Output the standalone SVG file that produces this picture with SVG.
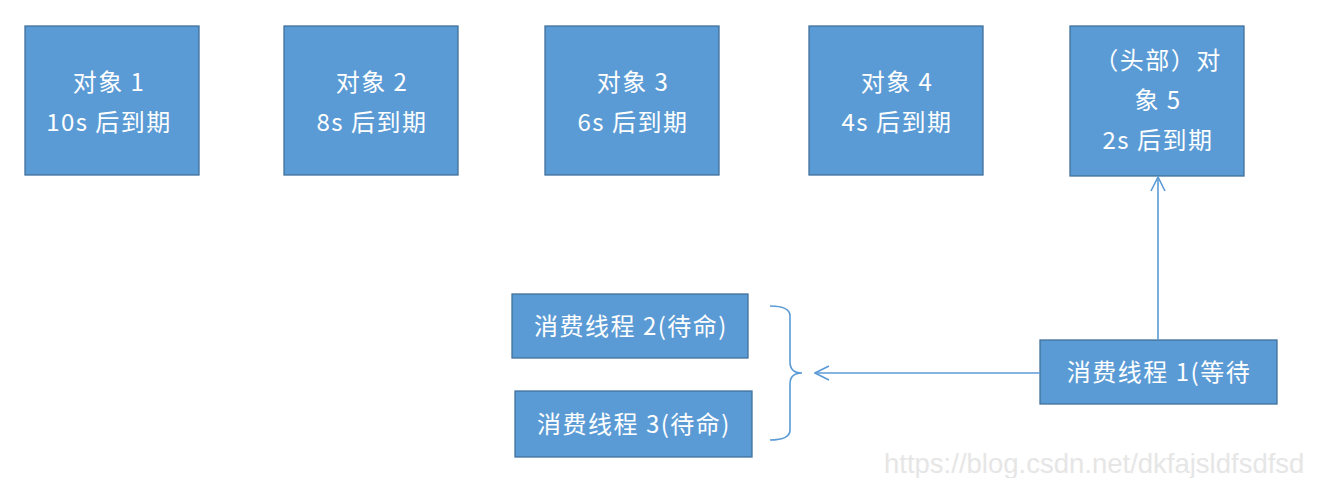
<svg xmlns="http://www.w3.org/2000/svg" width="1336" height="478" viewBox="0 0 1336 478">
<style>
.box{fill:#5B9BD5;stroke:#41719C;stroke-width:1.3}
.t{font-family:"Noto Sans CJK SC","Liberation Sans",sans-serif;font-size:24px;letter-spacing:1.5px;fill:#ffffff;text-anchor:middle}
.ln{fill:none;stroke:#5B9BD5;stroke-width:1.6}
.wm{font-family:"Liberation Sans",Arial,sans-serif;font-size:27.5px;fill:#e6e6e6}
</style>
<defs>
<marker id="ah" viewBox="0 0 16 16" refX="15" refY="8" markerWidth="16" markerHeight="16" markerUnits="userSpaceOnUse" orient="auto">
<path d="M1,1 L15,8 L1,15" fill="none" stroke="#5B9BD5" stroke-width="1.6"/>
</marker>
</defs>
<rect width="1336" height="478" fill="#ffffff"/>
<g id="obj1"><rect class="box" x="25" y="26" width="174" height="149"/><text class="t" x="109" y="91">对象 1</text><text class="t" x="109" y="131">10s 后到期</text></g>
<g id="obj2"><rect class="box" x="284" y="26" width="174" height="149"/><text class="t" x="372" y="91">对象 2</text><text class="t" x="372" y="131">8s 后到期</text></g>
<g id="obj3"><rect class="box" x="545" y="26" width="174" height="149"/><text class="t" x="633" y="91">对象 3</text><text class="t" x="633" y="131">6s 后到期</text></g>
<g id="obj4"><rect class="box" x="809" y="26" width="174" height="149"/><text class="t" x="897" y="91">对象 4</text><text class="t" x="897" y="131">4s 后到期</text></g>
<g id="obj5"><rect class="box" x="1070" y="26" width="174" height="150"/><text class="t" x="1158" y="69">（头部）对</text><text class="t" x="1158" y="109">象 5</text><text class="t" x="1158" y="149">2s 后到期</text></g>
<g id="c2"><rect class="box" x="512" y="294" width="236" height="64"/><text class="t" x="631" y="335">消费线程 2(待命)</text></g>
<g id="c3"><rect class="box" x="515" y="391" width="237" height="66"/><text class="t" x="634" y="433">消费线程 3(待命)</text></g>
<g id="c1"><rect class="box" x="1040" y="340" width="237" height="64"/><text class="t" x="1159" y="381">消费线程 1(等待</text></g>
<g id="connectors">
<path class="ln" d="M770,306 Q790,306 790,316 L790,362 Q790,373 802,373 Q790,373 790,384 L790,430 Q790,440 770,440"/>
<line class="ln" x1="1040" y1="373" x2="815" y2="373" marker-end="url(#ah)"/>
<line class="ln" x1="1158" y1="340" x2="1158" y2="177" marker-end="url(#ah)"/>
</g>
<text class="wm" x="884" y="473">https://blog.csdn.net/dkfajsldfsdfsd</text>
</svg>
